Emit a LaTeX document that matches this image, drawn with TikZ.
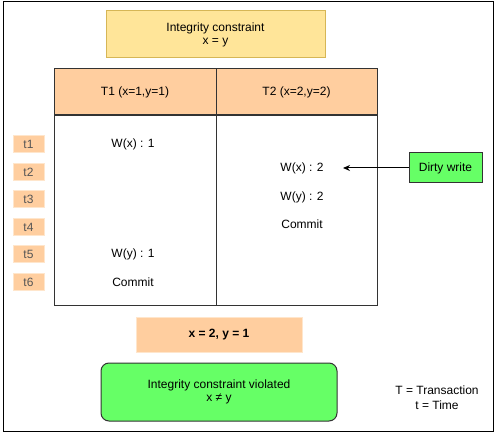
\documentclass[tikz,border=0pt]{standalone}
\usepackage{fontspec}
\setmainfont{Liberation Sans}
\usetikzlibrary{arrows.meta}
\definecolor{peach}{HTML}{FFCE9F}
\definecolor{peachline}{HTML}{FFE6CC}
\definecolor{yel}{HTML}{FFE599}
\definecolor{yelline}{HTML}{D6B656}
\definecolor{grn}{HTML}{66FF66}
\definecolor{lin}{HTML}{333333}
\definecolor{tgray}{HTML}{555555}
\tikzset{
  every node/.style={font=\fontsize{12}{14}\selectfont},
  tlabel/.style={fill=peach, draw=peachline, minimum width=31pt, minimum height=17pt, inner sep=0pt, text=tgray},
  op/.style={inner sep=1pt},
  cell/.style={draw=lin, line width=1pt},
}
\begin{document}
\begin{tikzpicture}[x=1pt,y=-1pt]
\useasboundingbox (0,0) rectangle (498,438);
% outer frame
\draw[line width=1pt, black] (3,2) rectangle (493,431);
% integrity constraint
\node[fill=yel, draw=yelline, line width=1pt, minimum width=219pt, minimum height=47pt, align=center] (ic) at (215.5,34.5) {Integrity constraint\\[-1pt]x = y};
% table header
\node[cell, fill=peach, minimum width=162pt, minimum height=46pt, inner sep=0pt] (h1) at (135,92) {T1 (x=1,y=1)};
\node[cell, fill=peach, minimum width=161pt, minimum height=46pt, inner sep=0pt] (h2) at (296.5,92) {T2 (x=2,y=2)};
% table body
\node[cell, minimum width=162pt, minimum height=190pt, inner sep=0pt, anchor=north] (b1) at (h1.south) {};
\node[cell, minimum width=161pt, minimum height=190pt, inner sep=0pt, anchor=north] (b2) at (h2.south) {};
% time labels
\node[tlabel] (t1) at (28.5,144) {t1};
\node[tlabel] (t2) at (28.5,172) {t2};
\node[tlabel] (t3) at (28.5,199) {t3};
\node[tlabel] (t4) at (28.5,227) {t4};
\node[tlabel] (t5) at (28.5,254) {t5};
\node[tlabel] (t6) at (28.5,282) {t6};
% T1 ops
\node[op] (w1x) at (133,144) {W(x) : 1};
\node[op] (w1y) at (133,254) {W(y) : 1};
\node[op] (c1) at (133,282) {Commit};
% T2 ops
\node[op] (w2x) at (302,168) {W(x) : 2};
\node[op] (w2y) at (302,197) {W(y) : 2};
\node[op] (c2) at (302,224) {Commit};
% dirty write
\node[fill=grn, draw=lin, line width=1pt, minimum width=73pt, minimum height=30pt, inner sep=0pt] (dw) at (445.5,168) {Dirty write};
\coordinate (dwend) at (343,168);
\draw[-{Stealth[length=7pt,width=6pt]}, line width=1pt, black] (dw.west) -- (dwend);
% result
\node[fill=peach, draw=peachline, minimum width=166pt, minimum height=35pt, inner sep=0pt, font=\fontsize{12}{14}\selectfont\bfseries] (res) at (219,334.5) {x = 2, y = 1};
% violated
\node[fill=grn, draw=lin, line width=1pt, rounded corners=8pt, minimum width=236pt, minimum height=58pt, align=center] (vi) at (219,392) {Integrity constraint violated\\[-1pt]x ≠ y};
% legend
\node[align=center, inner sep=0pt] (leg) at (437,398) {T = Transaction\\[1pt]t = Time};
\end{tikzpicture}
\end{document}
